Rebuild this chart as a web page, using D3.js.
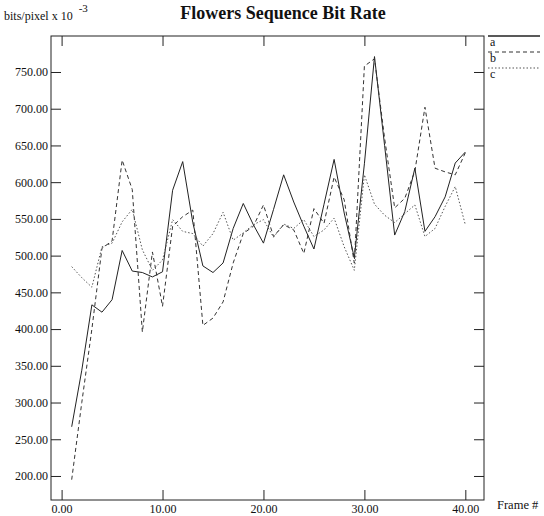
<!DOCTYPE html>
<html>
<head>
<meta charset="utf-8">
<script src="https://cdn.jsdelivr.net/npm/d3@7"></script>
<style>
  body { margin: 0; background: #fff; }
  svg { display: block; }
  text { font-family: "Liberation Serif", "DejaVu Serif", serif; fill: #111; }
</style>
</head>
<body>
<svg id="chart" width="544" height="516"></svg>
<script>
// frame numbers
var frames = [1, 2, 3, 4, 5, 6, 7, 8, 9, 10, 11, 12, 13, 14, 15, 16, 17, 18, 19, 20,
              21, 22, 23, 24, 25, 26, 27, 28, 29, 30, 31, 32, 33, 34, 35, 36, 37, 38, 39, 40];

// bits/pixel x 10^-3 for each sequence
var seriesA = [267, 344, 433, 423, 440, 507, 479, 477, 471, 478, 589, 628, 545, 486, 477, 490, 537, 571, 542, 517,
               563, 610, 573, 540, 509, 570, 631, 558, 497, 625, 771, 650, 528, 560, 619, 533, 553, 580, 626, 641];
var seriesB = [195, 300, 400, 510, 520, 630, 590, 396, 505, 431, 540, 553, 562, 405, 415, 437, 490, 530, 540, 569,
               526, 542, 535, 503, 564, 544, 607, 576, 490, 758, 768, 660, 565, 578, 615, 702, 619, 614, 610, 640];
var seriesC = [485, 470, 457, 512, 517, 546, 563, 508, 480, 494, 549, 533, 530, 513, 530, 559, 521, 531, 542, 549,
               525, 543, 537, 549, 526, 535, 551, 512, 480, 610, 570, 555, 545, 557, 569, 526, 537, 567, 594, 542];

var seriesNames = ["a", "b", "c"];
var xTicks = [0, 10, 20, 30, 40];
var yTicks = [200, 250, 300, 350, 400, 450, 500, 550, 600, 650, 700, 750];

var svg = d3.select("#chart");
var plotLeft = 51, plotRight = 484, plotTop = 36, plotBottom = 500;

var x = d3.scaleLinear().domain([-1.05, 41.85]).range([plotLeft, plotRight]);
var y = d3.scaleLinear().domain([167.3, 799]).range([plotBottom, plotTop]);

var fmt = d3.format(".2f");

// frame
svg.append("rect")
    .attr("x", plotLeft).attr("y", plotTop)
    .attr("width", plotRight - plotLeft).attr("height", plotBottom - plotTop)
    .attr("fill", "none").attr("stroke", "#222").attr("stroke-width", 1);

// axes, all ticks pointing inward
function styleAxis(g) {
    g.select(".domain").remove();
    g.selectAll(".tick line").attr("stroke", "#222");
    g.selectAll(".tick text").attr("fill", "#111")
        .style("font-family", "'Liberation Serif', serif").style("font-size", "12px");
}

svg.append("g").attr("transform", "translate(0," + plotBottom + ")")
    .call(d3.axisBottom(x).tickValues(xTicks).tickSize(-10).tickSizeOuter(0).tickPadding(4).tickFormat(fmt))
    .call(styleAxis);
svg.append("g").attr("transform", "translate(0," + plotTop + ")")
    .call(d3.axisTop(x).tickValues(xTicks).tickSize(-10).tickSizeOuter(0).tickFormat(""))
    .call(styleAxis);
svg.append("g").attr("transform", "translate(" + plotLeft + ",0)")
    .call(d3.axisLeft(y).tickValues(yTicks).tickSize(-10).tickSizeOuter(0).tickPadding(3).tickFormat(fmt))
    .call(styleAxis);
svg.append("g").attr("transform", "translate(" + plotRight + ",0)")
    .call(d3.axisRight(y).tickValues(yTicks).tickSize(-10).tickSizeOuter(0).tickFormat(""))
    .call(styleAxis);

// lines
var styles = {
    a: { dash: null, color: "#222", width: 1 },
    b: { dash: "4,3", color: "#333", width: 1 },
    c: { dash: "1.5,2", color: "#555", width: 1 }
};
var data = { a: seriesA, b: seriesB, c: seriesC };

var line = d3.line()
    .x(function (d, i) { return x(frames[i]); })
    .y(function (d) { return y(d); });

seriesNames.forEach(function (name) {
    svg.append("path")
        .datum(data[name])
        .attr("d", line)
        .attr("fill", "none")
        .attr("stroke", styles[name].color)
        .attr("stroke-width", styles[name].width)
        .attr("stroke-dasharray", styles[name].dash);
});

// legend, top right outside the frame
var legend = svg.append("g");
seriesNames.forEach(function (name, i) {
    var ly = 36 + i * 16;
    legend.append("line")
        .attr("x1", 488).attr("x2", 540).attr("y1", ly).attr("y2", ly)
        .attr("stroke", styles[name].color)
        .attr("stroke-width", name === "a" ? 1.5 : 1.1)
        .attr("stroke-dasharray", styles[name].dash);
    legend.append("text")
        .attr("x", 490).attr("y", ly + 10)
        .style("font-size", "12px")
        .text(name);
});

// titles
svg.append("text")
    .attr("x", 283).attr("y", 19)
    .attr("text-anchor", "middle")
    .style("font-size", "18px").style("font-weight", "bold")
    .text("Flowers Sequence Bit Rate");

var unit = svg.append("text").attr("x", 4).attr("y", 20).style("font-size", "12px");
unit.append("tspan").text("bits/pixel x 10");
unit.append("tspan").attr("dx", 6).attr("dy", -8).style("font-size", "11px").text("-3");

svg.append("text")
    .attr("x", 497).attr("y", 509)
    .style("font-size", "12.5px")
    .text("Frame #");
</script>
</body>
</html>
